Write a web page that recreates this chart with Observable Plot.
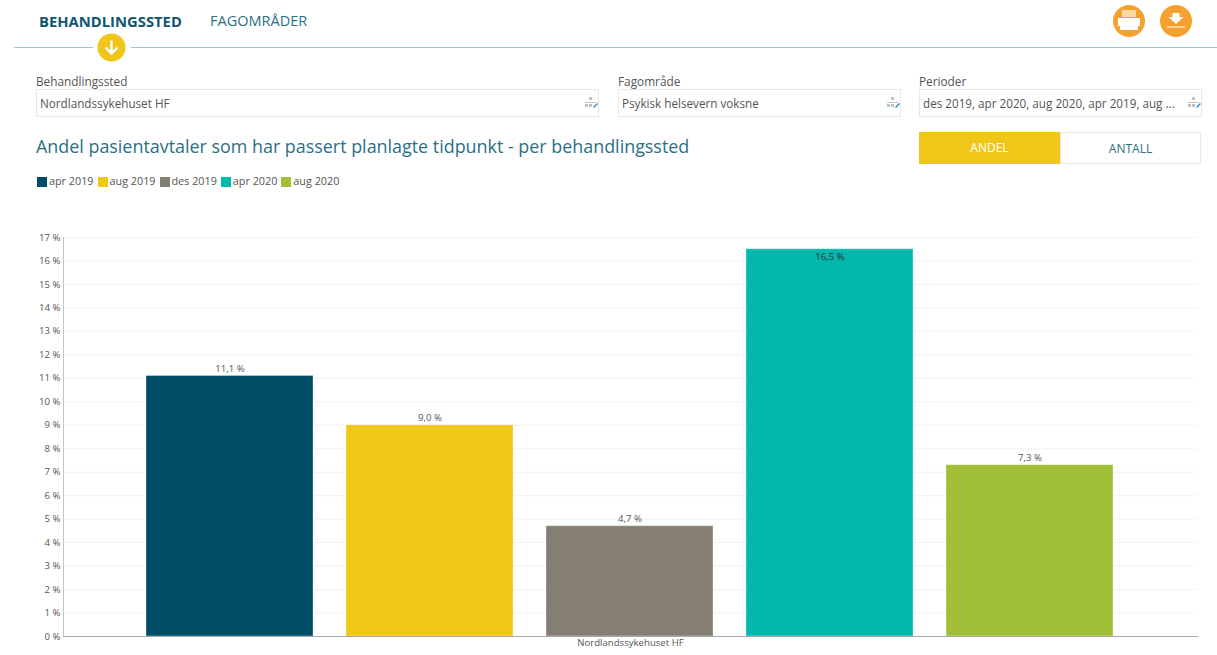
<!DOCTYPE html>
<html lang="no">
<head>
<meta charset="utf-8">
<title>Andel pasientavtaler</title>
<script src="https://cdn.jsdelivr.net/npm/d3@7"></script>
<script src="https://cdn.jsdelivr.net/npm/@observablehq/plot@0.6"></script>
<style>
  html, body { margin: 0; padding: 0; background: #fff; }
  body { position: relative; width: 1217px; height: 655px; overflow: hidden; font-family: "Open Sans", "Noto Sans", sans-serif; color: #555; }
  .abs { position: absolute; white-space: nowrap; }
  .tab { top: 12px; font-size: 14.5px; line-height: 18px; color: #2a6f85; }
  .tab.active { font-weight: 700; color: #0f5570; font-size: 14.8px; }
  .rule { height: 1px; top: 47px; background: #8fcbe0; }
  .field-label { top: 73px; font-size: 11.8px; line-height: 16px; color: #555; }
  .field { top: 89px; height: 28px; border: 1px solid #e8e8e8; box-sizing: border-box; font-size: 11.7px; line-height: 27px; padding-left: 3px; color: #555; }
  .title { left: 36px; top: 134px; font-size: 17.9px; line-height: 24px; color: #2a6f85; }
  .toggle { top: 132px; height: 32px; box-sizing: border-box; font-size: 12px; line-height: 32px; text-align: center; }
  #legend { left: 37px; top: 173px; display: flex; font-size: 10.8px; line-height: 16px; color: #555; }
  #legend span.swatch { width: 10px; height: 10px; margin: 4px 2px 0 0; display: inline-block; }
  #legend div { display: flex; margin-right: 4px; }
  #chart { position: absolute; left: 0; top: 225px; }
  svg.icon { position: absolute; }
</style>
</head>
<body>
<div class="abs tab active" style="left:39px">BEHANDLINGSSTED</div>
<div class="abs tab" style="left:210px">FAGOMRÅDER</div>
<div class="abs rule" style="left:14px;width:79px"></div>
<div class="abs rule" style="left:131px;width:1086px"></div>
<svg class="icon" style="left:97px;top:33px" width="29" height="29" viewBox="0 0 29 29">
  <circle cx="14.5" cy="14.5" r="14" fill="#f0c619"/>
  <path d="M14.5 7.500v13M8.500 14.500l6 6 6-6" fill="none" stroke="#fff" stroke-width="2.4"/>
</svg>
<svg class="icon" style="left:1113px;top:5px" width="32" height="32" viewBox="0 0 32 32">
  <circle cx="16" cy="16" r="16" fill="#f4a12e"/>
  <path d="M9 5h14v7H9z" fill="#fbd9a8"/>
  <path d="M5 13h22v8H5z" fill="#fff"/>
  <path d="M7 21h18v4H7z" fill="#fff"/>
</svg>
<svg class="icon" style="left:1160px;top:5px" width="32" height="32" viewBox="0 0 32 32">
  <circle cx="16" cy="16" r="16" fill="#f4a12e"/>
  <path d="M12.500 8h7v4h4L16 19l-7.500-7h4z" fill="#fff"/>
  <path d="M7 21.500h18v1H7z" fill="#fff"/>
</svg>

<div class="abs field-label" style="left:36px">Behandlingssted</div>
<div class="abs field" style="left:36px;width:563px">Nordlandssykehuset HF</div>
<div class="abs field-label" style="left:618px">Fagområde</div>
<div class="abs field" style="left:618px;width:283px">Psykisk helsevern voksne</div>
<div class="abs field-label" style="left:919px">Perioder</div>
<div class="abs field" style="left:919px;width:283px">des 2019, apr 2020, aug 2020, apr 2019, aug ...</div>
<svg class="icon" style="left:584px;top:96px" width="15" height="14" viewBox="0 0 15 14"><path d="M5 1h3v3H5zM1 6h11v1H1zM1 8h3v3H1zM5 8h3v3H5z" fill="#b9c4c9"/><path d="M9 11l4-4 1 1-4 4z" fill="#2f8fd0"/></svg>
<svg class="icon" style="left:886px;top:96px" width="15" height="14" viewBox="0 0 15 14"><path d="M5 1h3v3H5zM1 6h11v1H1zM1 8h3v3H1zM5 8h3v3H5z" fill="#b9c4c9"/><path d="M9 11l4-4 1 1-4 4z" fill="#2f8fd0"/></svg>
<svg class="icon" style="left:1187px;top:96px" width="15" height="14" viewBox="0 0 15 14"><path d="M5 1h3v3H5zM1 6h11v1H1zM1 8h3v3H1zM5 8h3v3H5z" fill="#b9c4c9"/><path d="M9 11l4-4 1 1-4 4z" fill="#2f8fd0"/></svg>

<div class="abs title">Andel pasientavtaler som har passert planlagte tidpunkt - per behandlingssted</div>
<div class="abs toggle" style="left:919px;width:141px;background:#f0c619;color:#fff">ANDEL</div>
<div class="abs toggle" style="left:1060px;width:141px;border:1px solid #e8e8e8;color:#2a6f85">ANTALL</div>
<div class="abs" id="legend"></div>
<div id="chart"></div>

<script>
// Share of patient appointments past their planned time, one bar per period
const hospital = "Nordlandssykehuset HF";
const periods = ["apr 2019", "aug 2019", "des 2019", "apr 2020", "aug 2020"];
const shares = [11.1, 9.0, 4.7, 16.5, 7.3];
const colors = ["#004c66", "#f0c619", "#857f73", "#00b8ae", "#a2c037"];
const yTicks = d3.range(0, 18);

const rows = periods.map((period, i) => ({period, share: shares[i], hospital}));
const comma = (v) => `${v.toFixed(1).replace(".", ",")} %`;

// Legend row above the plot
const legend = d3.select("#legend");
periods.forEach((p, i) => {
  const item = legend.append("div");
  item.append("span").attr("class", "swatch").style("background", colors[i]);
  item.append("span").text(p);
});

const plot = Plot.plot({
  width: 1217,
  height: 430,
  marginLeft: 63,
  marginRight: 20,
  marginTop: 12,
  marginBottom: 19,
  style: {fontFamily: '"Open Sans", "Noto Sans", sans-serif', fontSize: "9.6px", color: "#555", background: "transparent"},
  fx: {domain: [hospital], label: null, axis: "bottom", padding: 0, tickSize: 0, tickPadding: 3},
  x: {domain: periods, axis: null, paddingInner: 0.165, paddingOuter: 0.4175, align: 0.497},
  y: {domain: [0, 17], label: null, ticks: yTicks, tickSize: 0, tickPadding: 3, tickFormat: (d) => `${d} %`},
  color: {domain: periods, range: colors},
  marks: [
    Plot.gridY(yTicks, {stroke: "#e6e6e6", strokeOpacity: 1, strokeDasharray: "1 1"}),
    // A pale edge around each bar
    Plot.barY(rows, {fx: "hospital", x: "period", y: "share", fill: "period", stroke: "#fff", strokeOpacity: 0.35}),
    Plot.frame({anchor: "left", stroke: "#c4c4c4"}),
    Plot.frame({anchor: "bottom", stroke: "#a8a8a8"}),
    // The tallest bar carries its label inside, the others just above
    Plot.text(rows.filter((d) => d.share < 16), {fx: "hospital", x: "period", y: "share", text: (d) => comma(d.share), dy: -7, fill: "#555"}),
    Plot.text(rows.filter((d) => d.share >= 16), {fx: "hospital", x: "period", y: "share", text: (d) => comma(d.share), dy: 8, fill: "#333"})
  ]
});
document.getElementById("chart").append(plot);
</script>
</body>
</html>
